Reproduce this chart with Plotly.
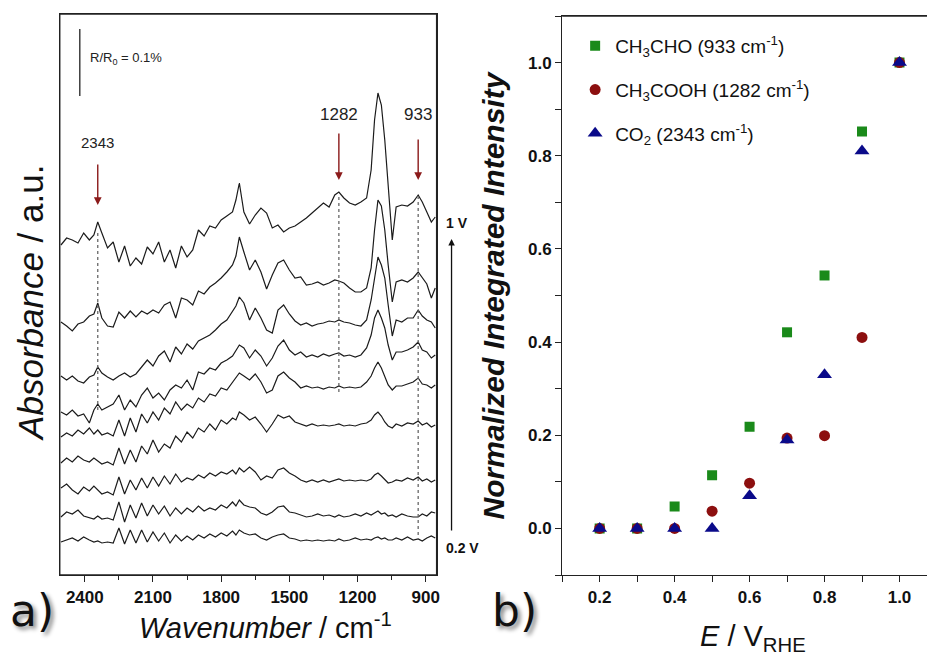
import plotly.graph_objects as go

W, H = 930, 657
FONT = "Arial, 'Liberation Sans', sans-serif"

# ---------------- Panel a) : in situ IR spectra ----------------
wavenumber = [2505, 2480, 2455, 2430, 2405, 2380, 2360, 2343, 2325, 2300,
              2275, 2250, 2225, 2200, 2175, 2150, 2125, 2100, 2075, 2050,
              2025, 2000, 1975, 1950, 1925, 1900, 1875, 1850, 1825, 1800,
              1775, 1750, 1735, 1720, 1700, 1675, 1650, 1625, 1600, 1575,
              1550, 1525, 1500, 1475, 1450, 1425, 1400, 1375, 1350, 1325,
              1300, 1282, 1260, 1235, 1210, 1185, 1160, 1140, 1125, 1110,
              1095, 1080, 1065, 1047, 1030, 1005, 980, 955, 933, 915,
              895, 875, 858]

# absorbance (a.u., scale bar = 67 a.u. = 0.1 %), each relative to its own baseline
abs_1_0V = [-25, -18, -20, -23, -13, -20, -15, -2, -13, -28, -22, -42, -26, -46, -38, -44, -27, -34, -22, -42,
            -30, -48, -26, -37, -30, -10, -16, -6, -8, 0, 4, 8, 20, 37, 8, -4, 5, 12, 7, -8,
            -5, -12, -8, -6, -2, 2, 7, 12, 17, 13, 25, 28, 22, 17, 15, 18, 22, 50, 100, 127,
            115, 80, 30, -20, 13, 15, 14, 18, 25, 18, 8, -2, 3]
abs_0_9V = [-32, -36, -41, -34, -32, -26, -24, -13, -28, -36, -37, -22, -28, -21, -27, -21, -24, -20, -23, -15,
            -12, -28, -8, -10, -15, -1, -4, 3, 7, 12, 18, 25, 34, 53, 38, 20, 30, 18, 1, 15,
            27, 30, 20, 12, 13, 5, 6, 8, 5, 7, 10, 9, 7, 2, -2, -2, 2, 22, 60, 90,
            84, 60, 25, -12, 8, 10, 8, 12, 18, 12, 6, -8, 2]
abs_0_8V = [-51, -55, -51, -56, -58, -52, -50, -42, -48, -52, -55, -51, -48, -52, -49, -42, -35, -41, -31, -26,
            -37, -22, -29, -19, -24, -16, -13, -10, -5, 1, 5, 13, 19, 28, 22, 5, 17, 7, -5, -8,
            15, 20, 11, 4, 0, 2, -1, 1, 2, 4, 3, 5, 3, 2, 0, -1, 5, 25, 47, 68,
            60, 47, 20, -11, 5, 3, 7, 7, 15, 9, 5, 3, -3]
abs_0_7V = [-57, -60, -55, -61, -59, -68, -55, -49, -55, -52, -49, -40, -55, -45, -52, -40, -33, -43, -38, -45,
            -35, -30, -33, -25, -35, -17, -19, -13, -15, -8, -5, -1, 5, 10, 7, -3, 5, -1, -11, -3,
            9, 15, 5, 0, 3, -2, 0, -2, 1, -1, 1, 2, -1, 0, -2, 0, 7, 20, 37, 45,
            37, 27, 10, -5, 3, 3, 5, 8, 13, 5, 3, -3, 0]
abs_0_6V = [-52, -48, -51, -45, -49, -43, -49, -45, -50, -48, -51, -35, -51, -33, -47, -29, -38, -27, -35, -23,
            -29, -17, -25, -19, -23, -13, -17, -9, -11, -3, -5, 3, 7, 12, 9, 5, 11, 3, -8, -5,
            9, 13, 7, 3, -3, -1, -3, -2, -4, -2, -3, -1, -3, -2, -3, -2, 3, 9, 17, 23,
            17, 9, 0, -5, -1, -1, 1, 3, 7, 1, 0, -3, 0]
abs_0_5V = [-38, -33, -37, -31, -35, -37, -33, -36, -39, -37, -40, -23, -39, -25, -37, -21, -29, -15, -27, -19,
            -23, -11, -17, -7, -13, -3, -7, 1, -5, 5, 1, 7, 5, 13, 10, 5, 8, 1, -7, 1,
            10, 7, 9, 3, 1, -1, 1, -1, 0, -1, 0, 1, -1, 0, -1, 1, 2, 5, 10, 13,
            9, 3, -1, -3, 1, -1, 2, 1, 4, 0, 2, -2, 0]
abs_0_4V = [-8, -4, -10, -14, -7, -11, -6, -10, -14, -12, -15, 3, -14, 0, -10, 2, -8, 3, -6, 4,
            -4, 6, -2, 2, 0, 5, 2, 7, 4, 8, 6, 10, 6, 12, 8, 13, 8, 0, 4, 2,
            10, 12, 7, 4, 0, -2, 0, -2, 0, -2, 0, 1, -1, 0, -1, 0, -1, 1, 5, 7,
            4, 0, -3, -2, 0, -1, 2, 0, 3, -1, 1, -2, 0]
abs_0_3V = [-2, 3, 1, 5, -1, -3, -4, -1, -4, -3, -5, 13, -7, 10, -3, 12, -1, 10, 1, 9,
            -1, 7, 1, 7, 3, 9, 4, 7, 5, 10, 7, 13, 9, 15, 10, 8, 7, 2, 0, 3,
            8, 9, 3, 2, 0, -2, -1, 1, -1, 0, -2, 0, -2, -1, 1, -1, 2, 0, 2, 4,
            1, 2, -1, 0, -2, 1, -1, -2, -2, 1, -1, 3, 2]
abs_0_2V = [-2, 0, 2, -1, 3, 0, -2, -1, -3, -2, -3, 12, -4, 10, -3, 10, -2, 8, -1, 7,
            -3, 5, -1, 4, 0, 5, 2, 6, 3, 7, 4, 9, 5, 10, 7, 5, 6, 2, 0, 3,
            5, 6, 2, 1, -1, 0, -1, 0, -1, 0, -1, 1, -1, 0, 2, 0, 1, 0, 2, 3,
            1, 2, 0, 0, 2, 0, 3, 0, 1, -1, 2, 4, 2]
spectra = [abs_1_0V, abs_0_9V, abs_0_8V, abs_0_7V, abs_0_6V,
           abs_0_5V, abs_0_4V, abs_0_3V, abs_0_2V]
band_positions = [2343, 1282, 933]
scale_bar_au = 67  # a.u. corresponding to R/R0 = 0.1 %

# ---------------- Panel b) : normalized integrated intensities ----------------
potential = [0.2, 0.3, 0.4, 0.5, 0.6, 0.7, 0.8, 0.9, 1.0]
ch3cho = [0, 0, 0.047, 0.114, 0.218, 0.421, 0.543, 0.852, 1.0]
ch3cooh = [0, 0, 0, 0.037, 0.097, 0.194, 0.199, 0.410, 1.0]
co2 = [0, 0, 0, 0, 0.07, 0.19, 0.33, 0.81, 1.0]

# ---------------- layout helpers (pixels -> paper) ----------------
def PX(x):
    return x / W


def PY(y):
    return 1 - y / H


stack_offsets = [355, 285, 250, 220, 190, 150, 95, 60, 35]

fig = go.Figure()
for spec, off in zip(spectra, stack_offsets):
    fig.add_trace(go.Scatter(x=wavenumber, y=[v + off for v in spec], mode="lines",
                             line=dict(color="#1b1b1b", width=1.2),
                             xaxis="x", yaxis="y", showlegend=False, hoverinfo="skip"))

fig.add_trace(go.Scatter(x=potential, y=ch3cho, mode="markers", xaxis="x2", yaxis="y2",
                         name="CH<sub>3</sub>CHO (933 cm<sup>-1</sup>)", legendgroup="a",
                         marker=dict(symbol="square", size=10, color="#1a8a1a")))
fig.add_trace(go.Scatter(x=potential, y=ch3cooh, mode="markers", xaxis="x2", yaxis="y2",
                         name="CH<sub>3</sub>COOH (1282 cm<sup>-1</sup>)", legendgroup="b",
                         marker=dict(symbol="circle", size=11, color="#8c0f0f")))
fig.add_trace(go.Scatter(x=potential, y=co2, mode="markers", xaxis="x2", yaxis="y2",
                         name="CO<sub>2</sub> (2343 cm<sup>-1</sup>)", legendgroup="c",
                         marker=dict(symbol="triangle-up", size=13, color="#0a0a8a")))

tickfont = dict(family=FONT, size=17, color="#111", weight="bold")
axis_line = dict(showline=True, linecolor="#222", linewidth=1.3, showgrid=False, zeroline=False)
frame_line = dict(color="#222", width=1.3)

shapes = [
    # panel a) frame
    dict(type="rect", xref="x domain", yref="y domain", x0=0, x1=1, y0=0, y1=1,
         line=frame_line, fillcolor="rgba(0,0,0,0)"),
    # panel b) top border
    dict(type="line", xref="x2 domain", yref="y2 domain", x0=0, x1=1, y0=1, y1=1, line=frame_line),
]
# dotted marker lines for the three bands
dotted = {2343: (165, 343), 1282: (183, 380), 933: (40, 380)}
for wn in band_positions:
    y0, y1 = dotted[wn]
    shapes.append(dict(type="line", xref="x", yref="y", x0=wn, x1=wn, y0=y0, y1=y1,
                       line=dict(color="#666", width=1.3, dash="dot")))
# scale bar
shapes.append(dict(type="line", xref="x", yref="y", x0=2422, x1=2422, y0=479, y1=479 + scale_bar_au,
                   line=dict(color="#222", width=1.3)))

C = dict(xanchor="center", yanchor="middle")
ann = []
ann.append(dict(x=2387, y=517, xref="x", yref="y", text="R/R<sub>0</sub> = 0.1%", showarrow=False,
                xanchor="left", yanchor="middle", font=dict(family=FONT, size=13, color="#222")))
arrow_geom = {2343: (205, 163, 143, 15), 1282: (180, 132, 114, 17), 933: (180, 138, 114, 17)}
for wn in band_positions:
    tip, tail, lab, fs = arrow_geom[wn]
    ann.append(dict(x=wn, y=PY(tip), xref="x", yref="paper", ax=0, ay=tail - tip, text="",
                    showarrow=True, arrowhead=2, arrowsize=1.1, arrowwidth=1.4, arrowcolor="#8b1a1a"))
    ann.append(dict(x=wn, y=PY(lab), xref="x", yref="paper", text=str(wn), showarrow=False,
                    font=dict(family=FONT, size=fs, color="#222"), **C))

shadow_font = dict(family="'DejaVu Sans', sans-serif", size=44, color="#111", shadow="3px 3px 4px #888")
ann += [
    dict(x=PX(445), y=PY(223), xref="paper", yref="paper", text="<b>1 V</b>", showarrow=False,
         xanchor="left", yanchor="middle", font=dict(family=FONT, size=14, color="#111")),
    dict(x=PX(445), y=PY(548), xref="paper", yref="paper", text="<b>0.2 V</b>", showarrow=False,
         xanchor="left", yanchor="middle", font=dict(family=FONT, size=14, color="#111")),
    dict(x=PX(453), y=PY(239), xref="paper", yref="paper", ax=0, ay=293, text="", showarrow=True,
         arrowhead=2, arrowsize=1, arrowwidth=1.3, arrowcolor="#111"),
    # axis titles
    dict(x=PX(31), y=PY(303), xref="paper", yref="paper", textangle=-90, showarrow=False,
         text="<i>Absorbance</i> / a.u.", font=dict(family=FONT, size=35, color="#111"), **C),
    dict(x=PX(266), y=PY(626), xref="paper", yref="paper", showarrow=False,
         text="<i>Wavenumber</i> / cm<sup>-1</sup>", font=dict(family=FONT, size=29, color="#111"), **C),
    dict(x=PX(496), y=PY(295), xref="paper", yref="paper", textangle=-90, showarrow=False,
         text="<b><i>Normalized Integrated Intensity</i></b>", font=dict(family=FONT, size=30, color="#111"), **C),
    dict(x=PX(755), y=PY(638), xref="paper", yref="paper", showarrow=False,
         text="<i>E</i> / V<sub>RHE</sub>", font=dict(family=FONT, size=29, color="#111"), **C),
    # panel labels
    dict(x=PX(32), y=PY(610), xref="paper", yref="paper", showarrow=False, text="a)", font=shadow_font, **C),
    dict(x=PX(516), y=PY(610), xref="paper", yref="paper", showarrow=False, text="b)", font=shadow_font, **C),
]

fig.update_layout(
    width=W, height=H, autosize=False,
    margin=dict(l=0, r=0, t=0, b=0),
    paper_bgcolor="white", plot_bgcolor="white",
    font=dict(family=FONT, color="#111"),
    xaxis=dict(domain=[PX(60), PX(438)], range=[2510, 852], anchor="y", mirror=True,
               ticks="outside", ticklen=6, tickwidth=1.3, tickcolor="#222",
               tick0=0, dtick=300, tickfont=tickfont,
               minor=dict(dtick=150, ticks="outside", ticklen=4, tickwidth=1.2, tickcolor="#222"),
               **axis_line),
    yaxis=dict(domain=[PY(575), PY(14)], range=[0, 561], anchor="x", mirror=True,
               ticks="", showticklabels=False, **axis_line),
    xaxis2=dict(domain=[PX(564), 1.0], range=[0.1, 1.0734], anchor="y2", mirror=True,
                ticks="outside", ticklen=6, tickwidth=1.3, tickcolor="#222",
                tick0=0.2, dtick=0.2, tickformat=".1f", tickfont=tickfont,
                minor=dict(dtick=0.1, ticks="outside", ticklen=6, tickwidth=1.2, tickcolor="#222"),
                **axis_line),
    yaxis2=dict(domain=[PY(575), PY(16)], range=[-0.1, 1.1], anchor="x2",
                ticks="outside", ticklen=6, tickwidth=1.3, tickcolor="#222",
                tick0=0, dtick=0.2, tickformat=".1f", tickfont=tickfont,
                minor=dict(dtick=0.1, ticks="outside", ticklen=6, tickwidth=1.2, tickcolor="#222"),
                **axis_line),
    legend=dict(x=PX(577), y=PY(27), xanchor="left", yanchor="top", traceorder="grouped",
                tracegroupgap=16, bgcolor="rgba(0,0,0,0)",
                font=dict(family=FONT, size=19, color="#111")),
    shapes=shapes,
    annotations=ann,
)

fig.write_html("out.html", config={"displayModeBar": False},
               post_script="document.body.style.margin='0px';")
